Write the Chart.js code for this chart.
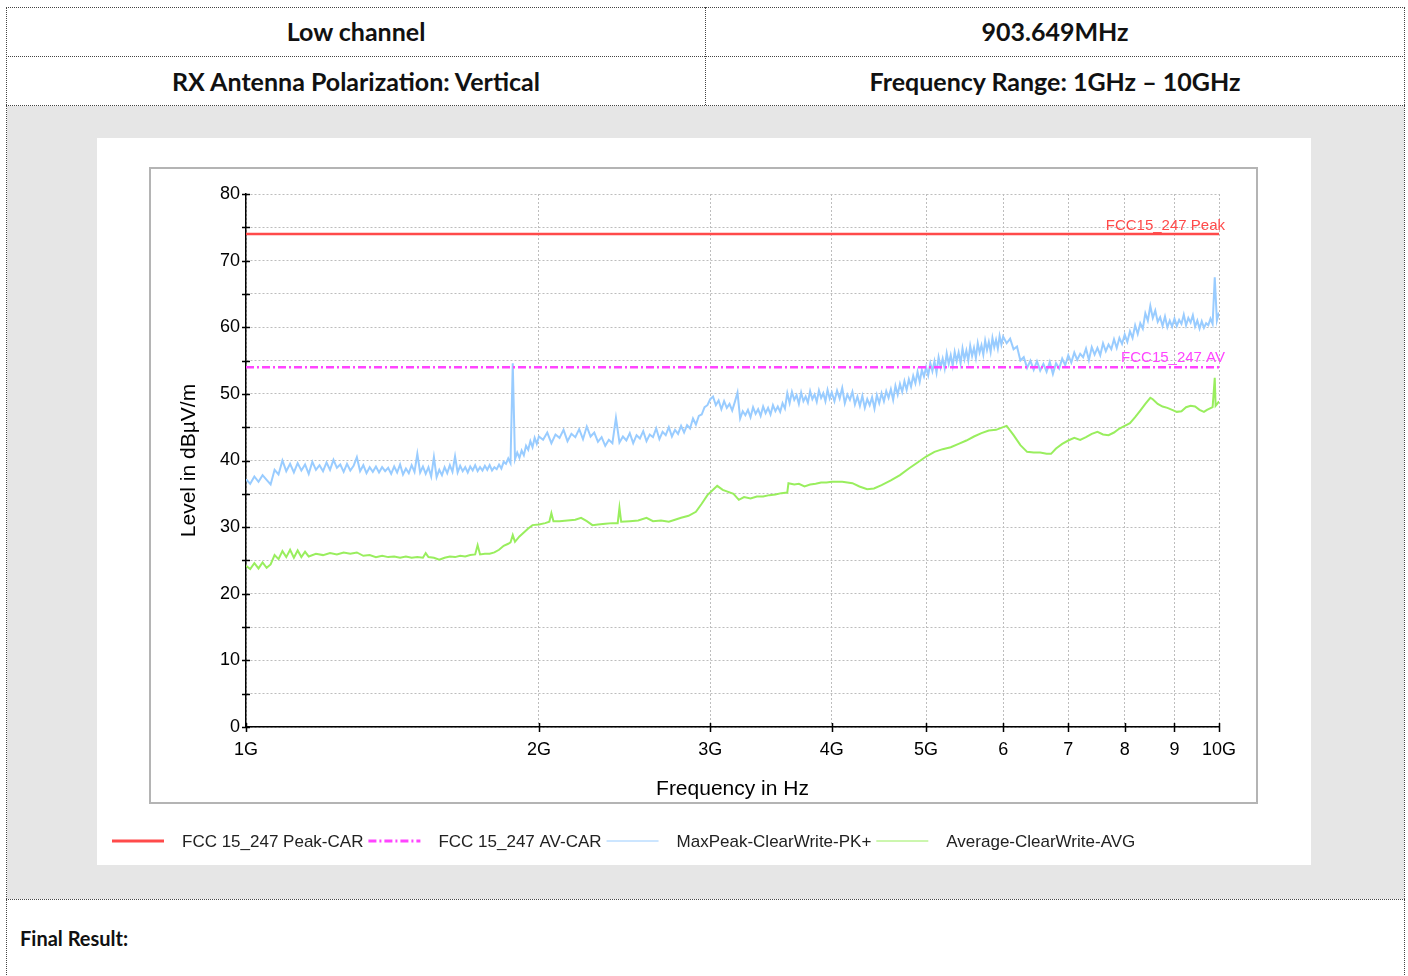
<!DOCTYPE html>
<html>
<head>
<meta charset="utf-8">
<script src="https://cdn.jsdelivr.net/npm/chart.js@4.4.0/dist/chart.umd.min.js"></script>
<style>
body { margin: 0; background: #fff; font-family: Lato, sans-serif; }
#page { position: relative; width: 1408px; height: 976px; overflow: hidden; }
.box { position: absolute; left: 6px; top: 7px; width: 1399px; height: 990px; border: 1px dotted #444; box-sizing: border-box; }
.hline { position: absolute; left: 6px; width: 1399px; height: 0; border-top: 1px dotted #444; }
.vline { position: absolute; left: 705px; top: 7px; width: 0; height: 98px; border-left: 1px dotted #444; }
.cell { position: absolute; height: 49px; line-height: 49px; text-align: center; font-weight: bold; font-size: 25px; color: #111; }
#gray { position: absolute; left: 7px; top: 106px; width: 1397px; height: 793px; background: #e6e6e6; }
#card { position: absolute; left: 97px; top: 138px; width: 1214px; height: 727px; background: #fff; }
#final { position: absolute; left: 20px; top: 926px; font-weight: bold; font-size: 20px; color: #111; }
</style>
</head>
<body>
<div id="page">
  <div id="gray"></div>
  <div class="box"></div>
  <div class="hline" style="top:56px"></div>
  <div class="hline" style="top:105px"></div>
  <div class="hline" style="top:899px"></div>
  <div class="vline"></div>
  <div class="cell" style="left:7px;top:7px;width:698px">Low channel</div>
  <div class="cell" style="left:706px;top:7px;width:698px">903.649MHz</div>
  <div class="cell" style="left:7px;top:57px;width:698px">RX Antenna Polarization: Vertical</div>
  <div class="cell" style="left:706px;top:57px;width:698px">Frequency Range: 1GHz – 10GHz</div>
  <div id="card"><canvas id="chart" width="1214" height="727"></canvas></div>
  <div id="final">Final Result:</div>
</div>
<script>
// frequencies in GHz, levels in dBuV/m
const peakFreq = [
  1.00, 1.01, 1.02, 1.03, 1.04, 1.05, 1.06, 1.07, 1.08, 1.09,
  1.10, 1.11, 1.12, 1.13, 1.14, 1.15, 1.16, 1.17, 1.18, 1.19,
  1.20, 1.21, 1.22, 1.23, 1.24, 1.25, 1.26, 1.27, 1.28, 1.29,
  1.30, 1.31, 1.32, 1.33, 1.34, 1.35, 1.36, 1.37, 1.38, 1.39,
  1.40, 1.41, 1.42, 1.43, 1.44, 1.45, 1.46, 1.47, 1.48, 1.49,
  1.50, 1.51, 1.52, 1.53, 1.54, 1.55, 1.56, 1.57, 1.58, 1.59,
  1.60, 1.61, 1.62, 1.63, 1.64, 1.65, 1.66, 1.67, 1.68, 1.69,
  1.70, 1.71, 1.72, 1.73, 1.74, 1.75, 1.76, 1.77, 1.78, 1.79,
  1.80, 1.81, 1.82, 1.83, 1.84, 1.85, 1.86, 1.87, 1.88, 1.89,
  1.90, 1.91, 1.92, 1.93, 1.94, 1.95, 1.96, 1.97, 1.98, 1.99,
  2.00,
  2.02, 2.04, 2.06, 2.08, 2.10, 2.12, 2.14, 2.16, 2.18, 2.20,
  2.22, 2.24, 2.26, 2.28, 2.30, 2.32, 2.34, 2.36, 2.38, 2.40,
  2.42, 2.44, 2.46, 2.48, 2.50, 2.52, 2.54, 2.56, 2.58, 2.60,
  2.62, 2.64, 2.66, 2.68, 2.70, 2.72, 2.74, 2.76, 2.78, 2.80,
  2.82, 2.84, 2.86, 2.88, 2.90, 2.92, 2.94, 2.96, 2.98, 3.00,
  3.02, 3.04, 3.06, 3.08, 3.10, 3.12, 3.14, 3.16, 3.18, 3.20,
  3.22, 3.24, 3.26, 3.28, 3.30, 3.32, 3.34, 3.36, 3.38, 3.40,
  3.42, 3.44, 3.46, 3.48, 3.50, 3.52, 3.54, 3.56, 3.58, 3.60,
  3.62, 3.64, 3.66, 3.68, 3.70, 3.72, 3.74, 3.76, 3.78, 3.80,
  3.82, 3.84, 3.86, 3.88, 3.90, 3.92, 3.94, 3.96, 3.98, 4.00,
  4.025, 4.050, 4.075, 4.100, 4.125, 4.150, 4.175, 4.200, 4.225, 4.250,
  4.275, 4.300, 4.325, 4.350, 4.375, 4.400, 4.425, 4.450, 4.475, 4.500,
  4.525, 4.550, 4.575, 4.600, 4.625, 4.650, 4.675, 4.700, 4.725, 4.750,
  4.775, 4.800, 4.825, 4.850, 4.875, 4.900, 4.925, 4.950, 4.975, 5.000,
  5.025, 5.050, 5.075, 5.100, 5.125, 5.150, 5.175, 5.200, 5.225, 5.250,
  5.275, 5.300, 5.325, 5.350, 5.375, 5.400, 5.425, 5.450, 5.475, 5.500,
  5.525, 5.550, 5.575, 5.600, 5.625, 5.650, 5.675, 5.700, 5.725, 5.750,
  5.775, 5.800, 5.825, 5.850, 5.875, 5.900, 5.925, 5.950, 5.975, 6.000,
  6.05, 6.10, 6.15, 6.20, 6.25, 6.30, 6.35, 6.40, 6.45, 6.50,
  6.55, 6.60, 6.65, 6.70, 6.75, 6.80, 6.85, 6.90, 6.95, 7.00,
  7.05, 7.10, 7.15, 7.20, 7.25, 7.30, 7.35, 7.40, 7.45, 7.50,
  7.55, 7.60, 7.65, 7.70, 7.75, 7.80, 7.85, 7.90, 7.95, 8.00,
  8.05, 8.10, 8.15, 8.20, 8.25, 8.30, 8.35, 8.40, 8.45, 8.50,
  8.55, 8.60, 8.65, 8.70, 8.75, 8.80, 8.85, 8.90, 8.95, 9.00,
  9.05, 9.10, 9.15, 9.20, 9.25, 9.30, 9.35, 9.40, 9.45, 9.50,
  9.55, 9.60, 9.65, 9.70, 9.75, 9.80, 9.85, 9.90, 9.95, 10.00
];
const peakLevel = [
  37.2, 36.5, 37.6, 36.8, 37.8, 37.1, 36.4, 38.6, 37.9, 40.0,
  38.4, 39.5, 38.2, 39.6, 38.5, 39.4, 38.0, 39.8, 38.6, 39.3,
  38.4, 39.7, 38.6, 40.1, 38.9, 39.4, 38.3, 39.5, 38.5, 39.2,
  40.5, 38.4, 39.3, 38.1, 39.0, 38.3, 39.1, 38.2, 39.0, 38.4,
  38.9, 38.0, 39.1, 38.2, 39.4, 37.9, 38.8, 38.1, 39.3, 38.3,
  41.0, 38.2, 39.1, 38.0, 39.0, 37.6, 40.5, 37.5, 38.6, 37.8,
  39.0, 38.1, 39.3, 38.3, 40.6, 38.2, 39.2, 38.4, 39.0, 38.2,
  39.1, 38.5, 39.3, 38.4, 39.0, 38.5, 39.2, 38.6, 39.3, 38.5,
  39.0, 38.7, 39.4, 38.8, 39.8, 39.5, 40.3, 39.6, 54.6, 40.2,
  41.2, 40.4, 41.5, 40.8, 42.2, 41.6, 42.9, 42.0, 43.4, 42.5,
  43.6,
  43.1, 44.2, 42.6, 43.9, 43.4, 44.6, 42.9, 44.0, 43.5, 44.7,
  43.2, 45.1, 43.6, 44.2, 42.8, 43.5, 42.2, 43.1, 42.6, 46.4,
  42.7, 43.6, 43.0, 44.1, 42.6, 43.8, 43.3, 44.4, 42.9, 43.9,
  43.5, 44.8, 43.2, 44.3, 43.8, 45.0, 43.6, 44.6, 44.0, 45.2,
  44.2, 45.3, 44.8, 46.3, 45.4, 46.7, 46.9, 48.0, 48.3, 49.2,
  49.6, 48.3, 49.0, 47.7, 48.9, 47.9, 48.5, 47.5, 48.8, 50.2,
  46.3, 47.4, 46.8, 47.6, 46.5, 48.0, 47.0, 47.7, 46.7, 48.1,
  47.1, 47.9, 46.9, 48.3, 47.4, 48.1, 47.3, 48.6, 47.8, 50.1,
  48.6, 50.3, 49.1, 49.8, 48.5, 50.2, 48.9, 49.6, 48.7, 50.4,
  49.2, 49.9, 48.8, 50.5, 49.4, 50.1, 48.9, 50.6, 49.3, 50.2,
  48.9, 50.5, 49.3, 50.9, 48.6, 49.9, 49.1, 50.3, 48.4, 49.6,
  48.2, 49.7, 47.9, 49.2, 48.3, 49.5, 47.8, 49.8, 48.6, 50.1,
  48.9, 50.4, 49.4, 50.7, 49.1, 51.2, 49.9, 51.5, 50.3, 51.9,
  50.6, 52.2, 51.1, 52.7, 51.6, 53.3, 51.8, 53.6, 52.6, 54.0,
  52.8, 54.6, 53.4, 54.9, 53.2, 55.5, 54.0, 55.3, 53.8, 56.1,
  54.5, 55.8, 54.2, 56.3, 54.9, 56.2, 54.6, 56.8, 55.2, 56.5,
  55.0, 57.2, 55.7, 56.9, 55.4, 57.6, 56.2, 57.3, 55.9, 58.0,
  56.6, 57.8, 56.3, 58.4, 57.0, 58.1, 56.8, 58.7, 57.4, 58.6,
  57.6, 58.3, 56.7, 57.1, 55.0, 55.5, 53.9, 55.0, 53.6, 54.9,
  53.5, 54.5, 53.3, 54.8, 53.0, 54.6, 53.8, 55.3, 54.3, 55.8,
  54.7, 56.2, 55.1, 56.0, 55.5, 56.8, 55.1, 57.0, 55.9, 56.9,
  55.8, 57.6, 56.4, 57.4, 56.7, 58.2, 56.9, 58.4, 57.5, 58.9,
  57.8, 59.4, 58.4, 60.3, 59.0, 60.6, 59.8, 62.1, 61.0, 63.2,
  61.4, 62.5, 60.8, 61.5, 60.2, 61.6, 60.0, 61.0, 60.1, 61.3,
  60.2, 61.1, 60.5, 61.9, 60.3, 61.4, 60.7, 61.8, 60.1, 61.0,
  59.8, 60.9, 59.9, 60.6, 60.3, 61.3, 60.5, 67.5, 61.0, 62.2
];
const avgFreq = [
  1.00, 1.01, 1.02, 1.03, 1.04, 1.05, 1.06, 1.07, 1.08, 1.09,
  1.10, 1.11, 1.12, 1.13, 1.14, 1.15, 1.16, 1.18, 1.20, 1.22,
  1.24, 1.26, 1.28, 1.30, 1.32, 1.34, 1.36, 1.38, 1.40, 1.42,
  1.44, 1.46, 1.48, 1.50, 1.52, 1.53, 1.54, 1.56, 1.58, 1.60,
  1.62, 1.64, 1.66, 1.68, 1.70, 1.72, 1.73, 1.74, 1.76, 1.78,
  1.80, 1.82, 1.84, 1.86, 1.87, 1.88, 1.89, 1.91, 1.93, 1.95,
  1.97, 2.00, 2.03, 2.05, 2.06, 2.07, 2.10, 2.14, 2.18, 2.21,
  2.24, 2.27, 2.30, 2.34, 2.38, 2.41, 2.42, 2.43, 2.48, 2.53,
  2.58, 2.62, 2.67, 2.72, 2.76, 2.80, 2.85, 2.90, 2.94, 2.98,
  3.02, 3.05, 3.09, 3.13, 3.17, 3.21, 3.25, 3.30, 3.35, 3.40,
  3.45, 3.50, 3.55, 3.60, 3.61, 3.66, 3.70, 3.75, 3.80, 3.85,
  3.90, 3.95, 4.00, 4.10, 4.20, 4.27, 4.35, 4.42, 4.50, 4.60,
  4.70, 4.80, 4.90, 5.00, 5.10, 5.20, 5.30, 5.40, 5.50, 5.60,
  5.70, 5.80, 5.90, 6.00, 6.05, 6.15, 6.25, 6.35, 6.45, 6.55,
  6.65, 6.72, 6.80, 6.90, 7.00, 7.10, 7.20, 7.30, 7.40, 7.50,
  7.60, 7.70, 7.80, 7.90, 8.00, 8.10, 8.20, 8.30, 8.40, 8.50,
  8.55, 8.65, 8.75, 8.85, 8.95, 9.05, 9.15, 9.25, 9.35, 9.45,
  9.55, 9.65, 9.72, 9.85, 9.90, 9.92, 9.97, 10.00
];
const avgLevel = [
  24.2, 23.7, 24.6, 23.8, 24.7, 23.9, 24.4, 25.8, 25.2, 26.4,
  25.5, 26.6, 25.4, 26.5, 25.5, 26.3, 25.6, 26.0, 25.8, 26.1,
  25.9, 26.2, 26.0, 26.2, 25.7, 25.8, 25.5, 25.7, 25.5, 25.6,
  25.4, 25.6, 25.4, 25.5, 25.4, 26.1, 25.5, 25.4, 25.1, 25.4,
  25.6, 25.5, 25.7, 25.6, 25.8, 25.9, 27.3, 25.9, 26.0, 26.0,
  26.2, 26.6, 27.2, 27.5, 27.7, 28.8, 27.8, 28.6, 29.2, 29.8,
  30.3, 30.4, 30.6, 30.8, 32.1, 30.9, 30.9, 31.0, 31.1, 31.4,
  30.9, 30.3, 30.4, 30.5, 30.6, 30.6, 32.9, 30.8, 30.9, 31.0,
  31.4, 30.9, 31.0, 30.8, 31.1, 31.4, 31.7, 32.3, 33.5, 34.8,
  35.6, 36.2, 35.6, 35.3, 35.0, 34.1, 34.5, 34.3, 34.6, 34.6,
  34.8, 34.9, 35.1, 35.2, 36.6, 36.4, 36.5, 36.1, 36.4, 36.5,
  36.7, 36.7, 36.8, 36.8, 36.6, 36.1, 35.7, 35.8, 36.3, 37.0,
  37.8, 38.8, 39.7, 40.6, 41.3, 41.7, 42.0, 42.5, 43.0, 43.6,
  44.1, 44.5, 44.6, 45.0, 45.2, 43.8, 42.3, 41.3, 41.2, 41.2,
  41.0, 41.0, 41.8, 42.5, 43.0, 43.4, 43.1, 43.5, 44.0, 44.3,
  43.9, 43.8, 44.2, 44.8, 45.2, 45.6, 46.5, 47.5, 48.5, 49.4,
  49.2, 48.5, 48.1, 47.9, 47.6, 47.3, 47.4, 48.0, 48.2, 48.1,
  47.6, 47.3, 47.6, 48.0, 52.4, 48.2, 48.6, 48.9
];
const limitFreq = [1, 10];
const peakLimit = [74, 74];
const avLimit = [54, 54];

const seriesNames = ['FCC 15_247 Peak-CAR', 'FCC 15_247 AV-CAR', 'MaxPeak-ClearWrite-PK+', 'Average-ClearWrite-AVG'];
const limitNames = ['FCC15_247 Peak', 'FCC15_247 AV'];
const xTickValues = [1, 2, 3, 4, 5, 6, 7, 8, 9, 10];
const xTickLabels = ['1G', '2G', '3G', '4G', '5G', '6', '7', '8', '9', '10G'];
const yTickLabels = ['0', '10', '20', '30', '40', '50', '60', '70', '80'];

const FONT = '"Liberation Sans", Arial, sans-serif';

function toPoints(xs, ys) {
    return xs.map(function (x, i) { return { x: x, y: ys[i] }; });
}

// frame, axis tick marks, limit captions and legend
const decor = {
    id: 'decor',
    beforeDraw: function (chart) {
        const ctx = chart.ctx;
        ctx.save();
        ctx.strokeStyle = '#b4b4b4';
        ctx.lineWidth = 2;
        ctx.strokeRect(53, 30, 1107, 635);
        ctx.restore();
    },
    afterDraw: function (chart) {
        const ctx = chart.ctx;
        const area = chart.chartArea;
        const xs = chart.scales.x;
        const ys = chart.scales.y;
        ctx.save();
        ctx.strokeStyle = '#000';
        ctx.lineWidth = 1.5;
        ctx.beginPath();
        ys.ticks.forEach(function (t) {
            const py = Math.round(ys.getPixelForValue(t.value)) + 0.5;
            ctx.moveTo(area.left - 4, py);
            ctx.lineTo(area.left + 4, py);
        });
        xs.ticks.forEach(function (t) {
            const px = Math.round(xs.getPixelForValue(t.value)) + 0.5;
            ctx.moveTo(px, area.bottom - 4);
            ctx.lineTo(px, area.bottom + 5);
        });
        ctx.stroke();

        // limit captions
        ctx.font = '15px ' + FONT;
        ctx.textAlign = 'right';
        ctx.textBaseline = 'middle';
        ctx.fillStyle = '#ff4a4a';
        ctx.fillText(limitNames[0], area.right + 6, ys.getPixelForValue(peakLimit[1]) - 8);
        ctx.fillStyle = '#ff44ff';
        ctx.fillText(limitNames[1], area.right + 6, ys.getPixelForValue(avLimit[1]) - 9);

        // legend
        ctx.font = '17px ' + FONT;
        ctx.textAlign = 'left';
        ctx.fillStyle = '#222';
        let x = 15;
        const y = 703;
        chart.data.datasets.forEach(function (ds) {
            ctx.save();
            ctx.strokeStyle = ds.borderColor;
            ctx.lineWidth = ds.legendWidth;
            ctx.setLineDash(ds.borderDash || []);
            ctx.beginPath();
            ctx.moveTo(x, y);
            ctx.lineTo(x + 52, y);
            ctx.stroke();
            ctx.restore();
            x += 52 + 18;
            ctx.fillText(ds.label, x, y + 1);
            x += ctx.measureText(ds.label).width + 5;
        });
        ctx.restore();
    }
};

document.addEventListener('DOMContentLoaded', function () {
    const ctx = document.getElementById('chart');
    Chart.defaults.font.family = FONT;
    Chart.defaults.color = '#000';

    new Chart(ctx, {
        type: 'line',
        data: {
            datasets: [{
                label: seriesNames[0],
                data: toPoints(limitFreq, peakLimit),
                borderColor: '#ff4a4a',
                borderWidth: 2.5,
                legendWidth: 3,
                order: 0
            }, {
                label: seriesNames[1],
                data: toPoints(limitFreq, avLimit),
                borderColor: '#ff44ff',
                borderWidth: 2.5,
                borderDash: [8, 3, 2, 3],
                legendWidth: 3,
                order: 0
            }, {
                label: seriesNames[2],
                data: toPoints(peakFreq, peakLevel),
                borderColor: '#99ccff',
                borderWidth: 2,
                legendWidth: 1,
                order: 1
            }, {
                label: seriesNames[3],
                data: toPoints(avgFreq, avgLevel),
                borderColor: '#99ee5e',
                borderWidth: 2,
                legendWidth: 1,
                order: 1
            }]
        },
        options: {
            responsive: false,
            animation: false,
            devicePixelRatio: 1,
            layout: {
                padding: { left: 53, right: 92, top: 56, bottom: 62 }
            },
            elements: {
                point: { radius: 0 },
                line: { tension: 0 }
            },
            plugins: {
                legend: { display: false },
                tooltip: { enabled: false }
            },
            scales: {
                x: {
                    type: 'logarithmic',
                    min: 1,
                    max: 10,
                    afterBuildTicks: function (scale) {
                        scale.ticks = xTickValues.map(function (v) { return { value: v }; });
                    },
                    afterFit: function (scale) { scale.height = 76; },
                    ticks: {
                        autoSkip: false,
                        maxRotation: 0,
                        padding: 12,
                        font: { size: 18 },
                        callback: function (value, index) { return xTickLabels[index]; }
                    },
                    grid: { color: '#bdbdbd', drawTicks: false },
                    border: { color: '#000', width: 1.5, dash: [2, 2] },
                    title: {
                        display: true,
                        text: 'Frequency in Hz',
                        font: { size: 21 },
                        padding: { top: 0, bottom: 1 }
                    }
                },
                y: {
                    min: 0,
                    max: 80,
                    afterFit: function (scale) { scale.width = 96; },
                    ticks: {
                        stepSize: 5,
                        padding: 6,
                        font: { size: 18 },
                        callback: function (value) { return value % 10 === 0 ? yTickLabels[value / 10] : ''; }
                    },
                    grid: { color: '#bdbdbd', drawTicks: false },
                    border: { color: '#000', width: 1.5, dash: [2, 2] },
                    title: {
                        display: true,
                        text: 'Level in dBµV/m',
                        font: { size: 21 },
                        padding: { top: 27, bottom: 0 }
                    }
                }
            }
        },
        plugins: [decor]
    });
});
</script>
</body>
</html>
